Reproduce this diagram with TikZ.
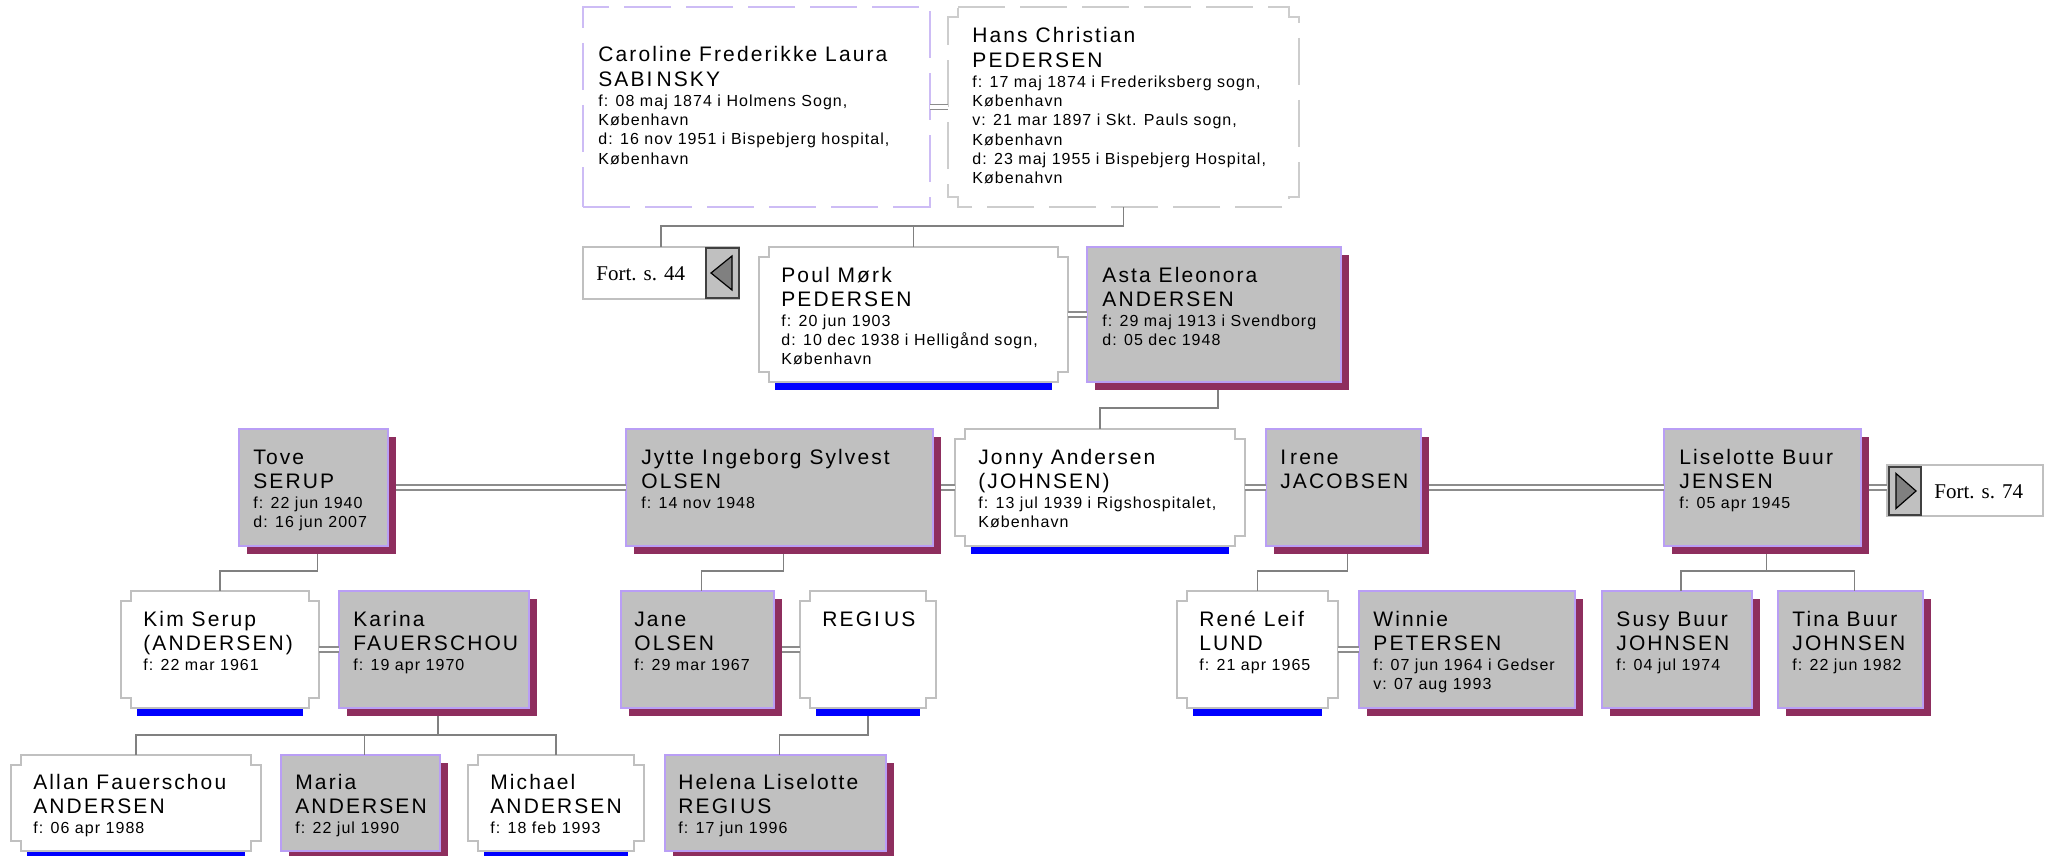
\documentclass[tikz,border=0pt]{standalone}
\usepackage{fontspec}
\setmainfont{Liberation Sans}
\newfontfamily\namefam{Liberation Sans}[LetterSpace=10]
\newfontfamily\datafam{Liberation Sans}[LetterSpace=6.5]
\newfontfamily\fortfam{Liberation Serif}
\usetikzlibrary{fit,shadows}

\definecolor{silver}{RGB}{192,192,192}
\definecolor{lav}{RGB}{185,158,245}
\definecolor{lavlight}{RGB}{205,188,245}
\definecolor{shade}{RGB}{142,46,94}
\definecolor{rim}{RGB}{192,192,192}
\definecolor{rimlight}{RGB}{205,205,205}
\definecolor{linegray}{RGB}{128,128,128}
\definecolor{wedgray}{RGB}{140,140,140}

\newcommand\nm[1]{{\namefam\fontsize{10.5}{12.45}\selectfont #1\par}}
\newcommand\dt[1]{{\datafam\fontsize{8}{9.65}\selectfont #1\par}}

\tikzset{
  box/.style={inner sep=0pt, outer sep=0pt},
  fem/.style={box, draw=lav, line width=1pt, fill=silver,
    drop shadow={shadow xshift=4pt, shadow yshift=-4pt, fill=shade, opacity=1}},
  male/.style={box, fill=white},
  notch/.style={draw=rim, line width=1pt},
  bar/.style={fill=blue},
  link/.style={draw=linegray, line width=.9pt},
  wed/.style={draw=wedgray, line width=.8pt, double=white, double distance=1.6pt},
  txt/.style={anchor=base west, inner sep=0pt},
  fort/.style={box, draw=rim, line width=1pt, fill=white},
  btn/.style={box, draw=black!75, line width=.9pt, fill=silver},
  arrowhead/.style={fill=linegray, draw=black, line width=.6pt},
}

\begin{document}
\begin{tikzpicture}[x=0.5pt,y=-0.5pt]
\useasboundingbox (0,0) rectangle (2055,856);

\node[box, draw=lavlight, line width=.6pt, dash pattern=on 23.5pt off 7.5pt, fit={(583,7) (930,207)}] (caroline) {};
\node[box, fit={(948,7) (1299,207)}] (hans) {};
\draw[draw=rimlight, line width=.6pt, dash pattern=on 23.5pt off 7.5pt]
  ([xshift=5pt]hans.north west) -- ([xshift=-5pt]hans.north east) |- ([yshift=-5pt]hans.north east)
  -- ([yshift=5pt]hans.south east) -| ([xshift=-5pt]hans.south east) -- ([xshift=5pt]hans.south west)
  |- ([yshift=5pt]hans.south west) -- ([yshift=-5pt]hans.north west) -| ([xshift=5pt]hans.north west);

\node[fort, fit={(583,247) (739,299)}] (fort44) {};
\node[btn, fit={(706,248) (739,298)}] (b44) {};
\filldraw[arrowhead] ([xshift=2.5pt]b44.west) -- ([shift={(-3.5pt,8.5pt)}]b44.east) -- ([shift={(-3.5pt,-8.5pt)}]b44.east) -- cycle;
\node[fort, fit={(1887,465) (2043,516)}] (fort74) {};
\node[btn, fit={(1889,467) (1921,515)}] (b74) {};
\filldraw[arrowhead] ([xshift=-2.5pt]b74.east) -- ([shift={(3.5pt,8.75pt)}]b74.west) -- ([shift={(3.5pt,-8.75pt)}]b74.west) -- cycle;

\node[male, fit={(759,247) (1068,382)}] (poul) {};
\node[fem, fit={(1087,247) (1341,382)}] (asta) {};

\node[fem, fit={(239,429) (388,546)}] (tove) {};
\node[fem, fit={(626,429) (933,546)}] (jytte) {};
\node[male, fit={(955,429) (1245,546)}] (jonny) {};
\node[fem, fit={(1266,429) (1421,546)}] (irene) {};
\node[fem, fit={(1664,429) (1861,546)}] (liselotte) {};

\node[male, fit={(121,591) (319,708)}] (kim) {};
\node[fem, fit={(339,591) (529,708)}] (karina) {};
\node[fem, fit={(621,591) (774,708)}] (jane) {};
\node[male, fit={(800,591) (936,708)}] (regius) {};
\node[male, fit={(1177,591) (1338,708)}] (rene) {};
\node[fem, fit={(1359,591) (1575,708)}] (winnie) {};
\node[fem, fit={(1602,591) (1752,708)}] (susy) {};
\node[fem, fit={(1778,591) (1923,708)}] (tina) {};

\node[male, fit={(11,755) (261,851)}] (allan) {};
\node[fem, fit={(281,755) (440,851)}] (maria) {};
\node[male, fit={(468,755) (644,851)}] (michael) {};
\node[fem, fit={(665,755) (886,851)}] (helena) {};

\foreach \n in {poul,jonny,kim,regius,rene,allan,michael}{
  \fill[bar] ([xshift=8pt]\n.south west) rectangle ([xshift=-8pt,yshift=-4pt]\n.south east);
  \draw[notch] ([xshift=5pt]\n.north west) -- ([xshift=-5pt]\n.north east) |- ([yshift=-5pt]\n.north east)
    -- ([yshift=5pt]\n.south east) -| ([xshift=-5pt]\n.south east) -- ([xshift=5pt]\n.south west)
    |- ([yshift=5pt]\n.south west) -- ([yshift=-5pt]\n.north west) -| ([xshift=5pt]\n.north west) -- cycle;
}

\draw[link] (hans.south) -- ++(0,19) coordinate (hk) -| (fort44.north);
\draw[link] (hk) -| (poul.north);
\draw[link] ([shift={(2pt,-4pt)}]asta.south) -- ++(0,18) -| (jonny.north);
\draw[link] ([shift={(2pt,-4pt)}]tove.south) -- ++(0,17) -| (kim.north);
\draw[link] ([shift={(2pt,-4pt)}]jytte.south) -- ++(0,17) -| ([xshift=2pt]jane.north);
\draw[link] ([shift={(2pt,-4pt)}]irene.south) -- ++(0,17) -| (rene.north);
\draw[link] ([shift={(2pt,-4pt)}]liselotte.south) -- ++(0,17) coordinate (lk) -| ([xshift=2pt]susy.north);
\draw[link] (lk) -| ([xshift=2pt]tina.north);
\draw[link] ([shift={(2pt,-4pt)}]karina.south) -- ++(0,19) coordinate (kk) -| (allan.north);
\draw[link] (kk) -| ([xshift=2pt]maria.north);
\draw[link] (kk) -| (michael.north);
\draw[link] ([yshift=-4pt]regius.south) -- ++(0,19) -| ([xshift=2pt]helena.north);

\draw[wed] (caroline.east) -- (hans.west);
\draw[wed] (poul.east) -- (asta.west);
\draw[wed] ([xshift=4pt]tove.east) -- (jytte.west);
\draw[wed] ([xshift=4pt]jytte.east) -- (jonny.west);
\draw[wed] (jonny.east) -- (irene.west);
\draw[wed] ([xshift=4pt]irene.east) -- (liselotte.west);
\draw[wed] ([xshift=4pt]liselotte.east) -- (liselotte.east -| fort74.west);
\draw[wed] (kim.east) -- (karina.west);
\draw[wed] ([xshift=4pt]jane.east) -- (regius.west);
\draw[wed] (rene.east) -- (winnie.west);

\node[txt] (caroline-t) at (598,62) {\parbox[t]{7cm}{\nm{Caroline Frederikke Laura}\nm{SABI\kern2pt NSKY}%
  \dt{f: 08 maj 1874 i Holmens Sogn,}\dt{København}\dt{d: 16 nov 1951 i Bispebjerg hospital,}\dt{København}}};
\node[txt] (hans-t) at (972,43) {\parbox[t]{7cm}{\nm{Hans Christian}\nm{PEDERSEN}%
  \dt{f: 17 maj 1874 i Frederiksberg sogn,}\dt{København}\dt{v: 21 mar 1897 i Skt. Pauls sogn,}\dt{København}%
  \dt{d: 23 maj 1955 i Bispebjerg Hospital,}\dt{Købenahvn}}};
\node[txt, font=\fortfam\fontsize{10.5}{12}\selectfont] (fort44-t) at (596,280) {Fort. s. 44};
\node[txt, font=\fortfam\fontsize{10.5}{12}\selectfont] (fort74-t) at (1934,498) {Fort. s. 74};

\node[txt] (poul-t) at (781,282) {\parbox[t]{7cm}{\nm{Poul Mørk}\nm{PEDERSEN}%
  \dt{f: 20 jun 1903}\dt{d: 10 dec 1938 i Helligånd sogn,}\dt{København}}};
\node[txt] (asta-t) at (1102,282) {\parbox[t]{7cm}{\nm{Asta Eleonora}\nm{ANDERSEN}%
  \dt{f: 29 maj 1913 i Svendborg}\dt{d: 05 dec 1948}}};

\node[txt] (tove-t) at (253,464) {\parbox[t]{7cm}{\nm{Tove}\nm{SERUP}\dt{f: 22 jun 1940}\dt{d: 16 jun 2007}}};
\node[txt] (jytte-t) at (641,464) {\parbox[t]{7cm}{\nm{Jytte I\kern2pt ngeborg Sylvest}\nm{OLSEN}\dt{f: 14 nov 1948}}};
\node[txt] (jonny-t) at (978,464) {\parbox[t]{7cm}{\nm{Jonny Andersen}\nm{(JOHNSEN)}%
  \dt{f: 13 jul 1939 i Rigshospitalet,}\dt{København}}};
\node[txt] (irene-t) at (1280,464) {\parbox[t]{7cm}{\nm{I\kern2pt rene}\nm{JACOBSEN}}};
\node[txt] (liselotte-t) at (1679,464) {\parbox[t]{7cm}{\nm{Liselotte Buur}\nm{JENSEN}\dt{f: 05 apr 1945}}};

\node[txt] (kim-t) at (143,626) {\parbox[t]{7cm}{\nm{Kim Serup}\nm{(ANDERSEN)}\dt{f: 22 mar 1961}}};
\node[txt] (karina-t) at (353,626) {\parbox[t]{7cm}{\nm{Karina}\nm{FAUERSCHOU}\dt{f: 19 apr 1970}}};
\node[txt] (jane-t) at (634,626) {\parbox[t]{7cm}{\nm{Jane}\nm{OLSEN}\dt{f: 29 mar 1967}}};
\node[txt] (regius-t) at (822,626) {\parbox[t]{7cm}{\nm{REGI\kern2pt US}}};
\node[txt] (rene-t) at (1199,626) {\parbox[t]{7cm}{\nm{René Leif}\nm{LUND}\dt{f: 21 apr 1965}}};
\node[txt] (winnie-t) at (1373,626) {\parbox[t]{7cm}{\nm{Winnie}\nm{PETERSEN}\dt{f: 07 jun 1964 i Gedser}\dt{v: 07 aug 1993}}};
\node[txt] (susy-t) at (1616,626) {\parbox[t]{7cm}{\nm{Susy Buur}\nm{JOHNSEN}\dt{f: 04 jul 1974}}};
\node[txt] (tina-t) at (1792,626) {\parbox[t]{7cm}{\nm{Tina Buur}\nm{JOHNSEN}\dt{f: 22 jun 1982}}};

\node[txt] (allan-t) at (33,789) {\parbox[t]{7cm}{\nm{Allan Fauerschou}\nm{ANDERSEN}\dt{f: 06 apr 1988}}};
\node[txt] (maria-t) at (295,789) {\parbox[t]{7cm}{\nm{Maria}\nm{ANDERSEN}\dt{f: 22 jul 1990}}};
\node[txt] (michael-t) at (490,789) {\parbox[t]{7cm}{\nm{Michael}\nm{ANDERSEN}\dt{f: 18 feb 1993}}};
\node[txt] (helena-t) at (678,789) {\parbox[t]{7cm}{\nm{Helena Liselotte}\nm{REGI\kern2pt US}\dt{f: 17 jun 1996}}};
\end{tikzpicture}
\end{document}
